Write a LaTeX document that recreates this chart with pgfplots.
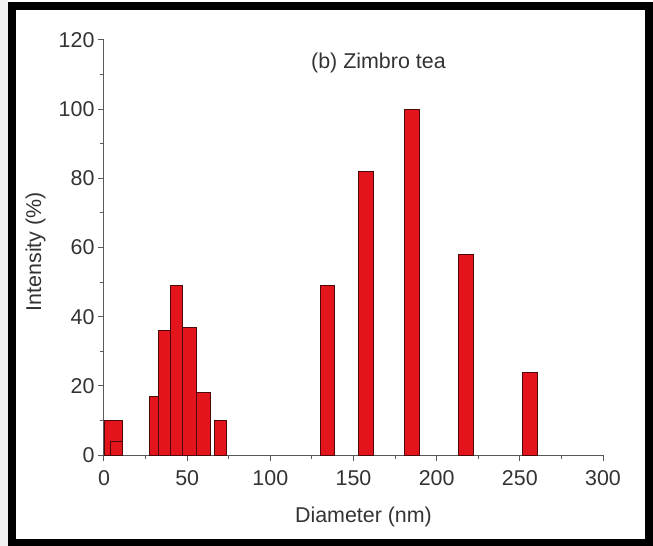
\documentclass[border=0pt]{standalone}
\usepackage{fontspec}
\setmainfont{Liberation Sans}
\usepackage{pgfplots}
\pgfplotsset{compat=1.18}
\definecolor{barred}{HTML}{E3141B}
\definecolor{baredge}{HTML}{4A0A0A}
\definecolor{axisgray}{HTML}{5A5A5A}
\definecolor{txtgray}{HTML}{333333}
\newcommand{\figfont}{\fontsize{21.5}{25}\selectfont}
% one bar: centre, width (axis units), height
\newcommand{\dlsbar}[3]{\addplot[ybar, bar shift=0pt, bar width=#2, fill=barred, draw=baredge, line width=0.9bp] coordinates {(#1,#3)};}

\begin{document}
\begin{tikzpicture}
\useasboundingbox (-104bp,-91bp) rectangle (549bp,455bp);
\fill[gray!12] (-104bp,-91bp) rectangle (-96bp,455bp);
\draw[line width=7.5bp] (-92bp,-87.5bp) rectangle (545bp,449bp);
\begin{axis}[
  at={(0,0)}, anchor=south west,
  scale only axis, width=499bp, height=415bp,
  xmin=0, xmax=300, ymin=0, ymax=120,
  axis x line*=bottom, axis y line*=left,
  tick align=outside,
  xtick={0,50,...,300}, ytick={0,20,...,120},
  minor x tick num=1, minor y tick num=1,
  major tick length=6bp, minor tick length=3.5bp,
  axis line style={axisgray, line width=1bp},
  every tick/.style={axisgray, line width=1bp},
  tick label style={font=\figfont, text=txtgray},
  xticklabel style={yshift=-6bp},
  /pgf/number format/assume math mode=true,
  xlabel={Diameter (nm)}, ylabel={Intensity (\%)},
  label style={font=\figfont, text=txtgray},
  x label style={at={(axis description cs:0.52,-0.15)}, anchor=center},
  y label style={at={(axis description cs:-0.137,0.49)}, anchor=center},
  clip=false,
]
% small-size population
\dlsbar{5.4}{10.8}{10}
\dlsbar{7.5}{7.6}{4}
% 25-75 nm population
\dlsbar{29.9}{5.4}{17}
\dlsbar{36.15}{7.1}{36}
\dlsbar{43.5}{7.6}{49}
\dlsbar{51.3}{8.0}{37}
\dlsbar{59.5}{8.4}{18}
\dlsbar{70.25}{7.1}{10}
% large population
\dlsbar{134.5}{8.6}{49}
\dlsbar{157.7}{8.9}{82}
\dlsbar{185.3}{8.9}{100}
\dlsbar{217.8}{8.9}{58}
\dlsbar{256.0}{8.8}{24}
\node[font=\figfont, text=txtgray] at (axis cs:165,113.4) {(b) Zimbro tea};
\end{axis}
\end{tikzpicture}
\end{document}
